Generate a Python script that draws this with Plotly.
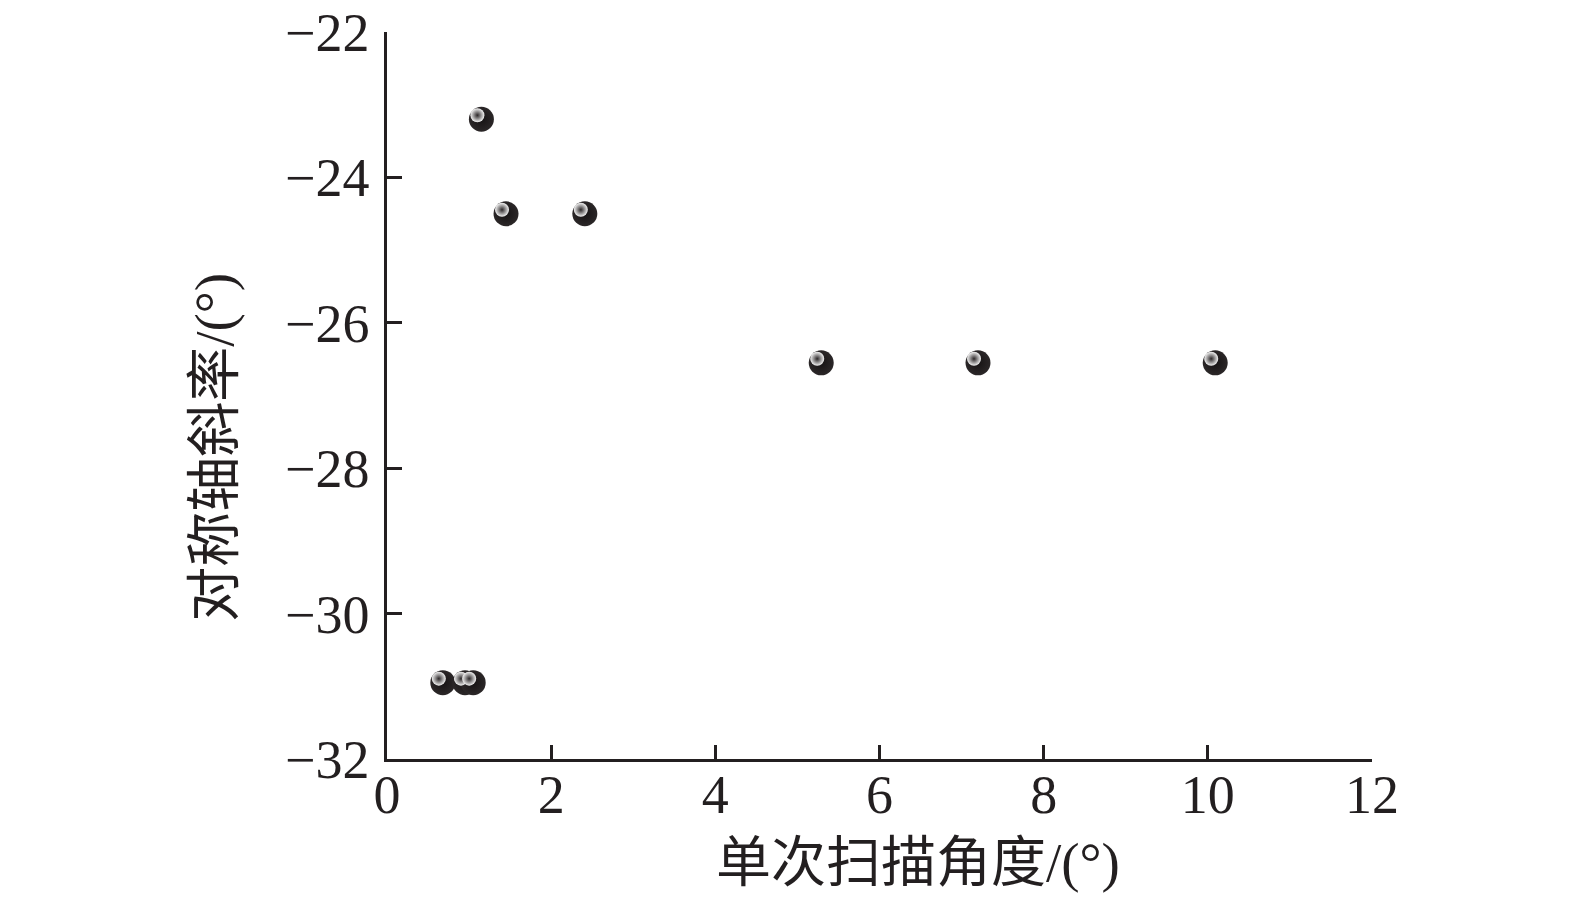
import plotly.graph_objects as go

# Data
scan_angle = [1.15, 1.45, 2.41, 0.68, 0.95, 1.05, 5.29, 7.20, 10.09]
axis_slope = [-23.2, -24.5, -24.5, -30.95, -30.95, -30.95, -26.55, -26.55, -26.55]

x_ticks = [0, 2, 4, 6, 8, 10, 12]
y_ticks = [-32, -30, -28, -26, -24, -22]
x_range = [0, 12]
y_range = [-32, -22]

x_title = "单次扫描角度/(°)"
y_title = "对称轴斜率/(°)"

ink = "#231f20"
font_family = "Liberation Serif, Times New Roman, Noto Sans CJK SC, serif"

# page body adds an 8px margin, so the figure is 8px smaller in each direction
W, H = 1567, 890
ML, MR, MT, MB = 379, 203, 24, 139
plot_w = W - ML - MR
plot_h = H - MT - MB
# highlight offset (pixels) expressed through a shifted overlay axis
hx = 4 * (x_range[1] - x_range[0]) / plot_w
hy = 4 * (y_range[1] - y_range[0]) / plot_h

fig = go.Figure()
fig.add_trace(go.Scatter(
    x=scan_angle, y=axis_slope, mode="markers",
    marker=dict(size=25, color="#2b2728", line=dict(width=0),
                gradient=dict(type="radial", color="#161314")),
    cliponaxis=False, showlegend=False, hoverinfo="skip",
))
fig.add_trace(go.Scatter(
    x=scan_angle, y=axis_slope, mode="markers", xaxis="x2", yaxis="y2",
    marker=dict(size=14, color="#f4f4f4", line=dict(width=0),
                gradient=dict(type="radial", color="#2b2728")),
    cliponaxis=False, showlegend=False, hoverinfo="skip",
))

fig.update_layout(
    width=W, height=H,
    margin=dict(l=ML, r=MR, t=MT, b=MB),
    paper_bgcolor="white", plot_bgcolor="white",
    font=dict(family=font_family, size=54, color=ink),
    xaxis=dict(
        range=x_range, tickvals=x_ticks, ticktext=[str(v) for v in x_ticks],
        showline=True, linecolor=ink, linewidth=2.5,
        ticks="inside", ticklen=14, tickwidth=2.5, tickcolor=ink,
        showgrid=False, zeroline=False, mirror=False, automargin=False,
        tickfont=dict(size=54), ticklabelstandoff=-14, ticklabeloverflow="allow",
    ),
    yaxis=dict(
        range=y_range, tickvals=y_ticks,
        showline=True, linecolor=ink, linewidth=2.5,
        ticks="inside", ticklen=15, tickwidth=2.5, tickcolor=ink,
        showgrid=False, zeroline=False, mirror=False, automargin=False,
        tickfont=dict(size=54), ticklabelstandoff=4, ticklabeloverflow="allow",
    ),
    xaxis2=dict(range=[x_range[0] + hx, x_range[1] + hx], overlaying="x",
                visible=False, anchor="y2", automargin=False),
    yaxis2=dict(range=[y_range[0] - hy, y_range[1] - hy], overlaying="y",
                visible=False, anchor="x2", automargin=False),
    annotations=[
        dict(text=x_title, xref="paper", yref="paper", x=0.539, y=-0.1417,
             xanchor="center", yanchor="middle", showarrow=False,
             font=dict(size=55, color=ink, family=font_family)),
        dict(text=y_title, xref="paper", yref="paper", x=-0.176, y=0.429,
             xanchor="center", yanchor="middle", showarrow=False, textangle=-90,
             font=dict(size=55, color=ink, family=font_family)),
    ],
)

fig.write_html("out.html")
